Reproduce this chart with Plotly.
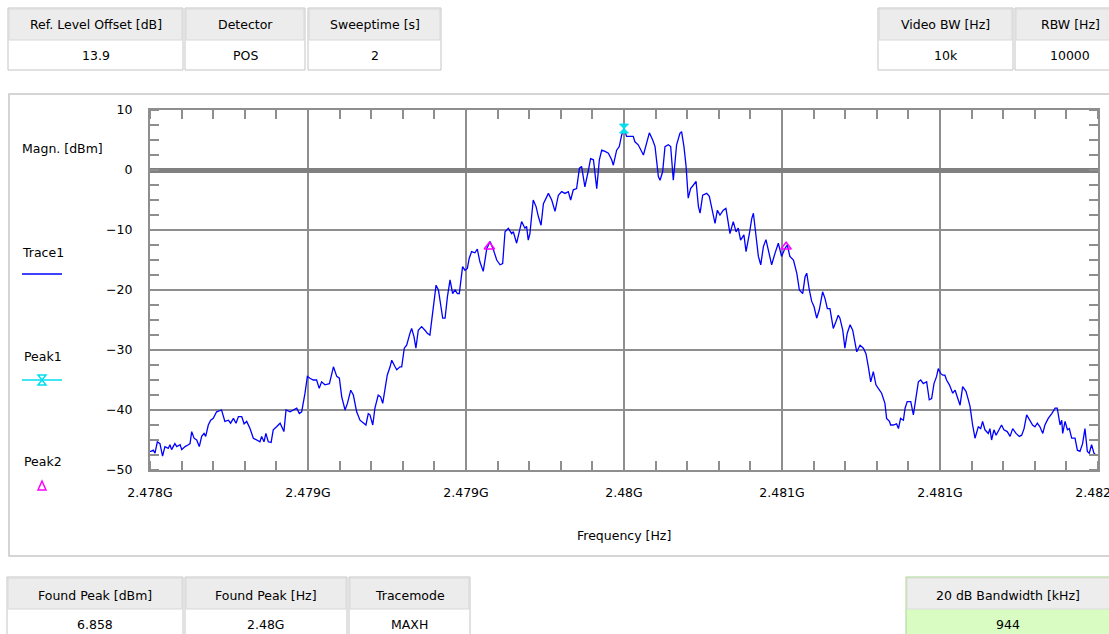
import plotly.graph_objects as go

# ---------------- data ----------------
F_START_HZ = 2.478e9
F_STOP_HZ = 2.482e9

freq_offset_khz = [
    0, 4, 14, 21, 31, 42, 53, 63, 77, 84, 91,
    105, 113, 127, 134, 148, 162, 169, 176, 186, 197,
    208, 218, 228, 235, 246, 256, 267, 281, 302, 316,
    331, 340, 352, 363, 373, 387, 397, 408, 422, 436,
    450, 464, 471, 481, 489, 499, 511, 520, 534, 549,
    565, 574, 591, 605, 619, 630, 640, 654, 664, 675,
    689, 703, 714, 724, 738, 757, 774, 788, 799, 809,
    823, 833, 847, 858, 872, 886, 903, 911, 921, 928,
    940, 949, 963, 973, 982, 992, 1001, 1013, 1020, 1034,
    1041, 1055, 1062, 1073, 1083, 1097, 1104, 1114, 1122, 1132,
    1146, 1160, 1170, 1181, 1193, 1198, 1207, 1217, 1226, 1235,
    1245, 1255, 1266, 1277, 1287, 1297, 1305, 1311, 1319, 1329,
    1339, 1347, 1357, 1371, 1381, 1392, 1406,
    1421, 1435, 1449, 1463, 1477, 1488, 1498, 1512, 1526, 1533,
    1547, 1558, 1568, 1582, 1589, 1596, 1603, 1617, 1629, 1639,
    1650, 1660, 1681, 1695, 1709, 1723, 1737, 1751, 1765, 1775,
    1786, 1800, 1812, 1821, 1835, 1850, 1859, 1871, 1885, 1896,
    1906, 1920, 1934, 1948, 1955, 1969, 1980, 1990, 2000, 2011,
    2025, 2039, 2046, 2060, 2082, 2096, 2107, 2121, 2131, 2145,
    2152, 2163, 2173, 2187, 2197, 2208, 2222, 2236, 2243, 2253,
    2262, 2271, 2281, 2293, 2304, 2314, 2321, 2332, 2349, 2360,
    2370, 2384, 2394, 2405, 2419, 2430, 2436, 2447, 2461, 2473,
    2482, 2492, 2506, 2515, 2529, 2539, 2546, 2557, 2567, 2577,
    2588, 2599, 2609, 2623, 2637, 2651, 2665, 2679, 2689, 2700,
    2715, 2729, 2740,
    2754, 2764, 2771, 2782, 2792, 2802, 2813, 2824, 2838, 2848,
    2858, 2869, 2883, 2894, 2904, 2911, 2923, 2932, 2942, 2954,
    2965, 2982, 2996, 3010, 3021, 3031, 3041, 3052, 3063, 3073,
    3087, 3101, 3108, 3120, 3125, 3136, 3150, 3158, 3167, 3179,
    3186, 3195, 3210, 3221, 3232, 3242, 3252, 3263, 3277, 3288,
    3298, 3308, 3319, 3326, 3336, 3345, 3354, 3361, 3373, 3387,
    3397, 3406, 3418, 3429, 3443, 3453, 3460, 3471, 3481, 3495,
    3505, 3513, 3523, 3537, 3544, 3551, 3561, 3570, 3579, 3593,
    3603, 3617, 3629, 3640, 3654, 3668, 3678, 3688, 3699, 3713,
    3724, 3734, 3744, 3755, 3767, 3776, 3790, 3805, 3819, 3828,
    3840, 3847, 3851, 3861, 3871, 3879, 3889, 3903, 3913, 3924,
    3935, 3945, 3955, 3963, 3973, 3983, 3991, 4000,
]

magnitude_dbm = [
    -46.9, -46.9, -46.7, -47.2, -45.3, -45.6, -47.7, -46.1, -46.4, -45.8, -46.6,
    -45.6, -46.1, -45.8, -46.6, -46.1, -45.8, -45.6, -43.6, -44.7, -45.0,
    -46.1, -44.4, -43.9, -44.4, -42.5, -41.7, -41.4, -40.3, -40.0, -41.9,
    -41.7, -42.2, -41.4, -42.2, -41.1, -41.1, -42.3, -41.9, -43.1, -44.7,
    -45.0, -45.3, -44.4, -45.3, -43.9, -45.3, -45.4, -43.3, -42.8, -42.2,
    -43.6, -40.0, -40.3, -40.0, -39.7, -40.6, -40.3, -37.2, -34.4, -34.7,
    -35.0, -35.0, -36.4, -35.3, -35.8, -35.6, -32.8, -34.4, -34.7, -37.8,
    -40.0, -38.9, -36.7, -37.5, -40.3, -41.7, -42.2, -42.5, -40.6, -40.8,
    -42.5, -39.7, -37.5, -37.8, -38.9, -36.7, -34.2, -32.8, -31.7, -32.8,
    -33.3, -32.8, -32.8, -29.7, -29.2, -27.2, -26.4, -27.8, -29.7, -26.7,
    -26.1, -26.7, -27.2, -27.5, -23.9, -21.7, -19.2, -20.0, -22.2, -24.7,
    -24.7, -21.1, -18.3, -20.6, -20.0, -20.6, -20.6, -18.3, -16.1, -16.7,
    -16.4, -14.7, -13.6, -13.8, -13.2, -15.3, -16.9,
    -13.1, -11.9, -13.3, -15.0, -15.8, -15.6, -10.3, -9.7, -10.6, -10.3,
    -12.2, -10.0, -8.6, -9.7, -9.4, -11.7, -10.6, -5.0, -6.1, -7.8,
    -9.2, -5.6, -3.9, -5.0, -6.9, -4.2, -3.6, -3.9, -3.6, -5.0,
    -3.3, -3.1, 0.3, 0.6, -2.8, 0.0, 1.9, 1.7, -3.1, 1.7,
    3.3, 3.1, 2.8, 1.7, 0.8, 3.3, 3.9, 5.8, 6.86, 5.6,
    5.6, 5.6, 4.7, 4.2, 2.5, 4.7, 6.2, 5.0, 3.9, -1.1,
    -1.7, -0.3, 3.9, 4.2, 3.9, -1.7, 4.2, 6.1, 6.4, 3.9,
    0.6, -4.7, -3.1, -2.5, -1.9, -6.1, -7.2, -4.2, -3.9, -4.4,
    -6.4, -8.9, -6.7, -7.5, -6.7, -6.4, -7.8, -10.6, -8.6, -10.3,
    -9.7, -11.7, -10.8, -13.6, -10.6, -8.1, -7.2, -10.6, -14.4, -15.8,
    -12.8, -11.6, -13.3, -15.8, -13.9, -12.2, -14.4, -13.1, -12.5, -14.4,
    -15.0, -17.2, -20.0,
    -20.6, -17.8, -17.2, -20.0, -21.9, -22.8, -24.7, -23.3, -20.3, -21.4,
    -23.1, -23.1, -26.4, -25.3, -24.2, -24.7, -26.7, -29.7, -27.2, -25.8,
    -26.7, -30.3, -29.2, -29.7, -30.6, -32.8, -35.3, -33.6, -35.8, -36.4,
    -37.2, -38.9, -41.4, -41.9, -42.5, -42.5, -42.3, -43.1, -41.4, -41.7,
    -39.7, -38.6, -38.6, -40.8, -37.8, -35.3, -35.0, -35.6, -35.3, -38.3,
    -38.1, -35.6, -34.4, -33.1, -33.9, -34.2, -34.2, -35.0, -35.8, -37.2,
    -36.7, -37.8, -39.2, -36.1, -36.9, -38.3, -39.4, -42.5, -44.7, -42.8,
    -43.1, -41.9, -43.3, -43.9, -43.1, -45.0, -43.3, -44.2, -43.6, -42.5,
    -43.3, -43.6, -44.4, -43.1, -43.9, -44.4, -44.2, -43.1, -40.8, -41.7,
    -42.5, -42.8, -42.2, -42.8, -43.9, -42.5, -41.4, -40.6, -39.7, -39.7,
    -42.5, -41.7, -43.9, -41.9, -43.3, -43.1, -44.7, -44.7, -46.7, -46.9,
    -45.6, -43.1, -46.9, -47.2, -45.8, -47.2, -47.5, -47.5,
]

peak1_offset_khz = [2000]
peak1_dbm = [6.858]
peak2_offset_khz = [1432, 2684]
peak2_dbm = [-12.8, -12.8]

x_tick_values_hz = [2.478e9, 2.4786667e9, 2.4793333e9, 2.48e9, 2.4806667e9, 2.4813333e9, 2.482e9]
x_tick_labels = ["2.478G", "2.479G", "2.479G", "2.48G", "2.481G", "2.481G", "2.482G"]
y_tick_values = [-50, -40, -30, -20, -10, 0, 10]

top_headers = ["Ref. Level Offset [dB]", "Detector", "Sweeptime [s]", "Video BW [Hz]", "RBW [Hz]"]
top_values = ["13.9", "POS", "2", "10k", "10000"]
bottom_headers = ["Found Peak [dBm]", "Found Peak [Hz]", "Tracemode", "20 dB Bandwidth [kHz]"]
bottom_values = ["6.858", "2.48G", "MAXH", "944"]
legend_names = ["Trace1", "Peak1", "Peak2"]

# ---------------- geometry (pixels) ----------------
W, H = 1109, 634
L, R, T, B = 150, 1098, 110, 470


def px(x):
    return (x - L) / (R - L)


def py(y):
    return (B - y) / (B - T)


FONT = "DejaVu Sans, Verdana, sans-serif"
FS = 12.5
GRID = "#8e8e8e"

freq_hz = [F_START_HZ + k * 1e3 for k in freq_offset_khz]
p1_hz = [F_START_HZ + k * 1e3 for k in peak1_offset_khz]
p2_hz = [F_START_HZ + k * 1e3 for k in peak2_offset_khz]

fig = go.Figure()
fig.add_trace(go.Scatter(x=freq_hz, y=magnitude_dbm, mode="lines",
                         line=dict(color="#0000ff", width=1.3), name=legend_names[0],
                         hoverinfo="skip"))
fig.add_trace(go.Scatter(x=p2_hz, y=peak2_dbm, mode="markers",
                         marker=dict(symbol="triangle-up-open", size=9, color="#ff00ff",
                                     line=dict(width=1.5, color="#ff00ff")),
                         name=legend_names[2], cliponaxis=False))
fig.add_trace(go.Scatter(x=p1_hz, y=[v + 0.05 for v in peak1_dbm], mode="markers",
                         marker=dict(symbol="hourglass", size=9, color="#00dfef",
                                     line=dict(width=1, color="#00dfef")),
                         name=legend_names[1], cliponaxis=False))

shapes = []
annotations = []


def rect(x0, y0, x1, y1, fill, line_color, width=1):
    shapes.append(dict(type="rect", xref="paper", yref="paper",
                       x0=px(x0), x1=px(x1), y0=py(y1), y1=py(y0),
                       fillcolor=fill, line=dict(color=line_color, width=width), layer="above"))


def text(cx, cy, s, anchor="center", size=FS):
    annotations.append(dict(xref="paper", yref="paper", x=px(cx), y=py(cy), text=s,
                            showarrow=False, xanchor=anchor, yanchor="middle",
                            font=dict(family=FONT, size=size, color="#000000")))


# outer panel around the chart
rect(9, 94, 1130, 556, "rgba(0,0,0,0)", "#c8c8c8", 1.5)

# top info boxes
top_x = [(8, 183), (185, 305), (308, 441), (878, 1013), (1015, 1125)]
for (x0, x1), hd, val in zip(top_x, top_headers, top_values):
    rect(x0, 8, x1, 70, "#ffffff", "#c4c4c4")
    rect(x0 + 1, 9, x1 - 1, 40, "#ececec", "#d8d8d8")
    text((x0 + x1) / 2, 25, hd)
    text((x0 + x1) / 2, 55, val)

# bottom info boxes
bot_x = [(7, 183), (185, 347), (349, 470)]
for (x0, x1), hd, val in zip(bot_x, bottom_headers[:3], bottom_values[:3]):
    rect(x0, 577, x1, 650, "#ffffff", "#c4c4c4")
    rect(x0 + 1, 578, x1 - 1, 609, "#ececec", "#d8d8d8")
    text((x0 + x1) / 2, 595, hd)
    text((x0 + x1) / 2, 624, val)

# green bandwidth box
rect(906, 577, 1112, 650, "#d8fcc2", "#a9d28f")
rect(907, 578, 1111, 609, "#ededed", "#dcdcdc")
text(1008, 595, bottom_headers[3])
text(1008, 624, bottom_values[3])

# legend on the left
text(20, 148, "Magn. [dBm]", anchor="left")
text(20, 252, legend_names[0], anchor="left")
shapes.append(dict(type="line", xref="paper", yref="paper", x0=px(22), x1=px(62),
                   y0=py(274), y1=py(274), line=dict(color="#0000ff", width=1.5)))
text(22, 356, legend_names[1], anchor="left")
shapes.append(dict(type="line", xref="paper", yref="paper", x0=px(22), x1=px(62),
                   y0=py(380), y1=py(380), line=dict(color="#00dfef", width=1.5)))
hx, hy = 42, 380
shapes.append(dict(type="path", xref="paper", yref="paper",
                   path=(f"M{px(hx-4)},{py(hy-5)} L{px(hx+4)},{py(hy-5)} L{px(hx-4)},{py(hy+5)} "
                         f"L{px(hx+4)},{py(hy+5)} Z"),
                   line=dict(color="#00dfef", width=1.5), fillcolor="rgba(0,0,0,0)"))
text(22, 461, legend_names[2], anchor="left")
tx, ty = 42, 486
shapes.append(dict(type="path", xref="paper", yref="paper",
                   path=f"M{px(tx-4)},{py(ty+4)} L{px(tx+4)},{py(ty+4)} L{px(tx)},{py(ty-5)} Z",
                   line=dict(color="#ff00ff", width=1.5), fillcolor="rgba(0,0,0,0)"))

# x axis title
text((L + R) / 2, 535, "Frequency [Hz]")

fig.update_layout(
    width=W, height=H,
    margin=dict(l=L, r=W - R, t=T, b=H - B, pad=0),
    paper_bgcolor="#ffffff", plot_bgcolor="#ffffff",
    showlegend=False,
    font=dict(family=FONT, size=FS, color="#000000"),
    shapes=shapes, annotations=annotations,
)
fig.update_xaxes(
    range=[F_START_HZ, F_STOP_HZ], tickvals=x_tick_values_hz, ticktext=x_tick_labels,
    showgrid=True, gridcolor=GRID, gridwidth=2,
    showline=True, linecolor=GRID, linewidth=2, mirror="ticks",
    ticks="", ticklabelstandoff=10, ticklabeloverflow="allow", zeroline=False, automargin=False,
    minor=dict(ticks="inside", ticklen=9, tickcolor=GRID, tickwidth=1.5,
               tick0=F_START_HZ, dtick=(F_STOP_HZ - F_START_HZ) / 30, showgrid=False),
    tickfont=dict(size=FS, family=FONT, color="#000000"),
)
fig.update_yaxes(
    range=[-50, 10], tickvals=y_tick_values,
    showgrid=True, gridcolor=GRID, gridwidth=2,
    showline=True, linecolor=GRID, linewidth=2, mirror="ticks",
    zeroline=True, zerolinecolor="#808080", zerolinewidth=5,
    ticks="", ticklabelstandoff=13, automargin=False,
    minor=dict(ticks="inside", ticklen=9, tickcolor=GRID, tickwidth=1.5,
               tick0=-50, dtick=2.5, showgrid=False),
    tickfont=dict(size=FS, family=FONT, color="#000000"),
)

fig.write_html("out.html", config={"displayModeBar": False},
               post_script="document.body.style.margin='0';document.body.style.overflow='hidden';")
